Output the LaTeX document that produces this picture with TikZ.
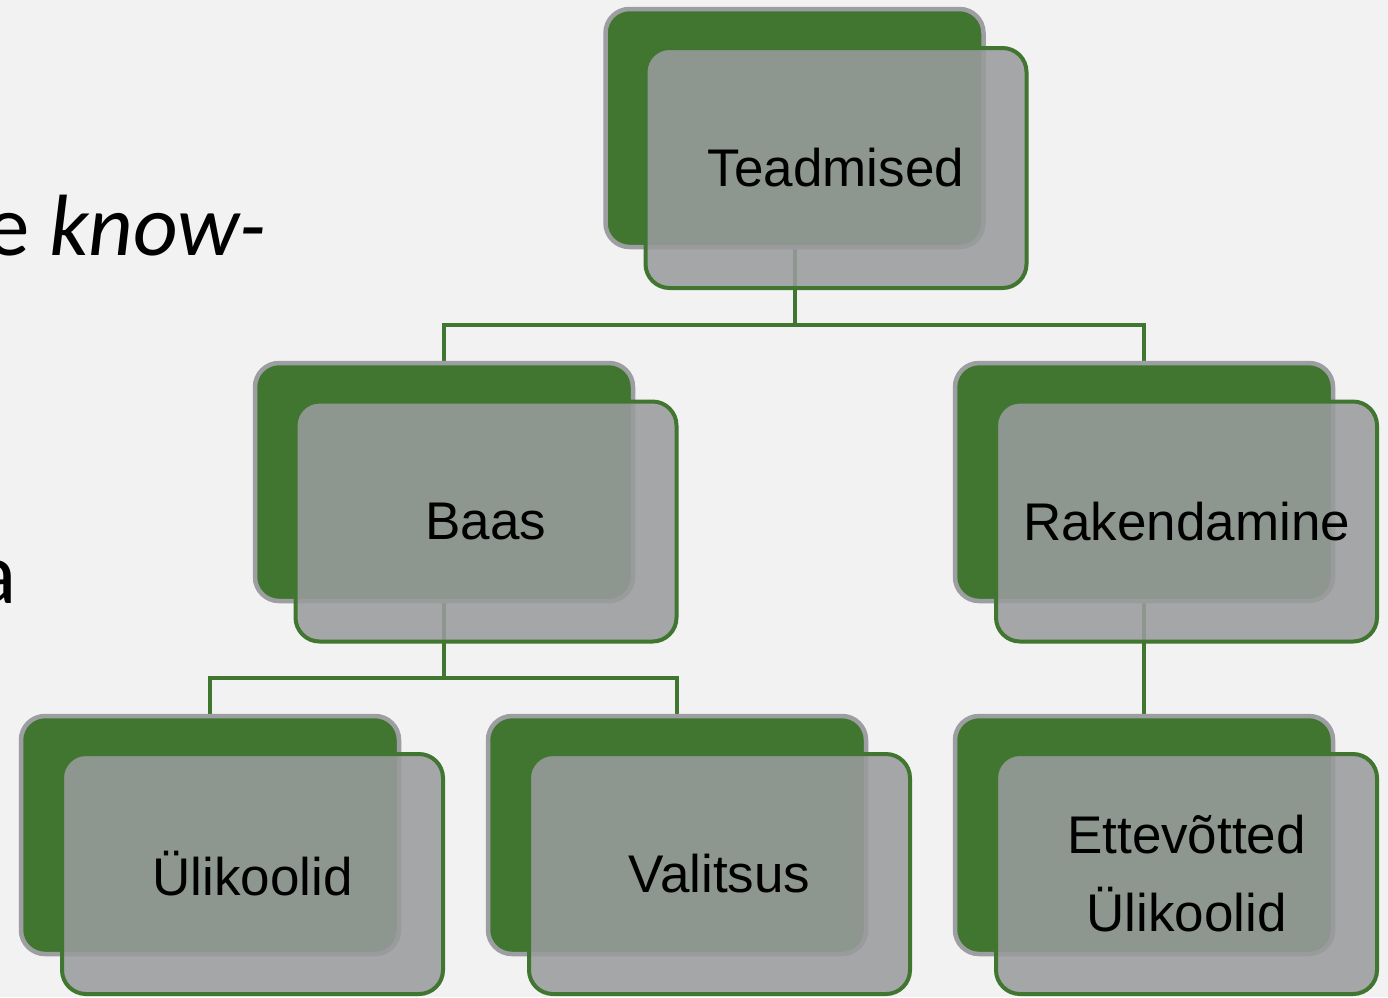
\documentclass[tikz,border=0pt]{standalone}
\usepackage{fontspec}
\setmainfont{Liberation Sans}
\newfontfamily\calibri{Carlito}
\definecolor{leafgreen}{RGB}{65,118,49}
\definecolor{framegray}{RGB}{157,158,162}
\definecolor{veil}{RGB}{153,155,157}
\definecolor{paper}{RGB}{242,242,242}

\begin{document}
\begin{tikzpicture}[x=1pt,y=-1pt,
    backbox/.style={draw=framegray,fill=leafgreen,line width=4.5pt,rounded corners=24pt,minimum width=378pt,minimum height=238pt,inner sep=0pt},
    frontbox/.style={draw=leafgreen,fill=veil,fill opacity=0.87,text opacity=1,line width=4pt,rounded corners=24pt,minimum width=381pt,minimum height=240pt,inner sep=0pt,align=center,font=\fontsize{53}{78}\selectfont},
    link/.style={draw=leafgreen,line width=4pt}]
                \fill[paper] (0,0) rectangle (1388,997);
                \useasboundingbox (0,0) rectangle (1388,997);
                \node[anchor=base west,inner sep=0pt,font=\calibri\fontsize{87}{100}\selectfont] (knowtxt) at (-14,255) {e \textit{know-}};
                \node[anchor=base west,inner sep=0pt,font=\calibri\fontsize{88}{100}\selectfont] (atxt) at (-26,603) {a};
                \coordinate (split1) at (794.5,325);
                \coordinate (split2) at (444,678);
                \coordinate (teadS) at (794.5,249);
                \coordinate (baasS) at (444,603);
                \coordinate (rakS) at (1144,603);
                \coordinate (baasN) at (444,361);
                \coordinate (rakN) at (1144,361);
                \coordinate (ulikN) at (210,714);
                \coordinate (valN) at (677,714);
                \coordinate (ettN) at (1144,714);
                \draw[link] (teadS) -- (split1) -| (baasN);
                \draw[link] (split1) -| (rakN);
                \draw[link] (baasS) -- (split2) -| (ulikN);
                \draw[link] (split2) -| (valN);
                \draw[link] (rakS) -- (ettN);
                \node[backbox] (teadB) at (794.5,128) {};
                \node[backbox] (baasB) at (444,482) {};
                \node[backbox] (rakB) at (1144,482) {};
                \node[backbox] (ulikB) at (210,835) {};
                \node[backbox] (valB) at (677,835) {};
                \node[backbox] (ettB) at (1144,835) {};
                \node[frontbox] (tead) at (836,168) {Teadmised};
                \node[frontbox] (baas) at (486,521.5) {Baas};
                \node[frontbox] (rak) at (1186.5,521.5) {Rakendamine};
                \node[frontbox] (ulik) at (252.5,874) {Ülikoolid};
                \node[frontbox] (val) at (719.5,874) {Valitsus};
                \node[frontbox] (ett) at (1186.5,874) {Ettevõtted\\Ülikoolid};
            \end{tikzpicture}
\end{document}
